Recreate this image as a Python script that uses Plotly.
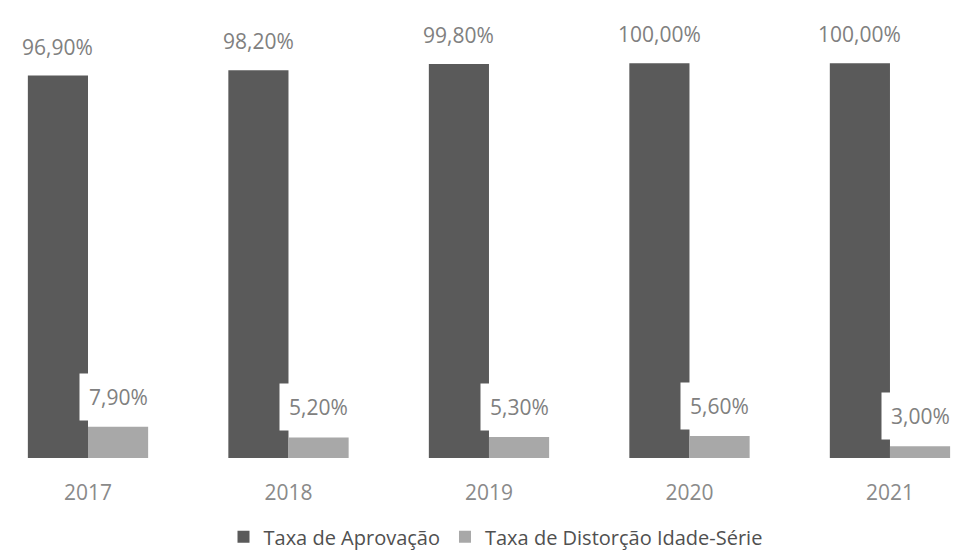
import plotly.graph_objects as go

years = ["2017", "2018", "2019", "2020", "2021"]
taxa_aprovacao = [96.9, 98.2, 99.8, 100.0, 100.0]
taxa_distorcao = [7.9, 5.2, 5.3, 5.6, 3.0]
series_names = ["Taxa de Aprovação", "Taxa de Distorção Idade-Série"]

DARK = "#5a5a5a"
LIGHT = "#a8a8a8"
FONT = "Open Sans"


def fmt(v):
    return f"{v:.2f}".replace(".", ",") + "%"


fig = go.Figure()
fig.add_trace(go.Bar(x=years, y=taxa_aprovacao, name=series_names[0],
                     marker=dict(color=DARK, line=dict(width=0))))
fig.add_trace(go.Bar(x=years, y=taxa_distorcao, name=series_names[1],
                     marker=dict(color=LIGHT, line=dict(width=0))))

bargap = 0.4
off = (1 - bargap) / 4
annotations = []
for i, v in enumerate(taxa_aprovacao):
    annotations.append(dict(x=i - off, y=v, xref="x", yref="y", text=fmt(v),
                            showarrow=False, yanchor="bottom", yshift=13,
                            font=dict(family=FONT, size=21, color="#808080")))
for i, v in enumerate(taxa_distorcao):
    annotations.append(dict(x=i + off, y=v, xref="x", yref="y", text=fmt(v),
                            showarrow=False, yanchor="bottom", yshift=6,
                            bgcolor="white", borderpad=9,
                            font=dict(family=FONT, size=21, color="#808080")))

fig.update_layout(
    width=975, height=551,
    margin=dict(l=0, r=0, t=0, b=101),
    paper_bgcolor="white", plot_bgcolor="white",
    barmode="group", bargap=bargap, bargroupgap=0,
    font=dict(family=FONT, color="#808080"),
    showlegend=True,
    legend=dict(orientation="h", x=0.5, xanchor="center", y=-0.175, yanchor="middle",
                font=dict(family=FONT, size=20, color="#505050"),
                itemwidth=30, traceorder="normal"),
    annotations=annotations,
    xaxis=dict(type="category", range=[-0.399, 4.464], showline=False,
               showgrid=False, zeroline=False, ticks="",
               ticklabelstandoff=20,
               tickfont=dict(family=FONT, size=21, color="#8a8a8a")),
    yaxis=dict(range=[0, 114], visible=False, showgrid=False, zeroline=False),
)

fig.write_html("out.html")
